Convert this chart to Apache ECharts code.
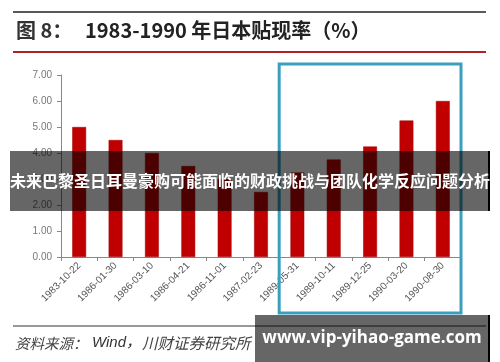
<!DOCTYPE html>
<html><head><meta charset="utf-8">
<script src="https://cdn.jsdelivr.net/npm/echarts@6/dist/echarts.min.js"></script>
<style>html,body{margin:0;padding:0;background:#fff}#c{width:500px;height:362px}</style>
</head><body><div id="c"></div>
<script>
const categories = ['1983-10-22','1986-01-30','1986-03-10','1986-04-21','1986-11-01','1987-02-23','1989-05-31','1989-10-11','1989-12-25','1990-03-20','1990-08-30'];
const rates = [5.0, 4.5, 4.0, 3.5, 3.0, 2.5, 3.25, 3.75, 4.25, 5.25, 6.0];
const yTicks = [0,1,2,3,4,5,6,7];
const highlightFrom = '1989-05-31';
const highlightTo = '1990-08-30';

const chart = echarts.init(document.getElementById('c'), null, {renderer:'canvas'});
const cjk = '"Noto Sans CJK SC", "Noto Sans", sans-serif';
const baseGraphics = [
  {type:'line', shape:{x1:13,y1:12,x2:486,y2:12}, style:{stroke:'#222',lineWidth:1.5}},
  {type:'text', left:16, top:20, style:{text:'图 8：', font:'bold 20px '+cjk, fill:'#333'}},
  {type:'text', left:85, top:20, style:{text:'1983-1990 年日本贴现率（%）', font:'bold 20px '+cjk, fill:'#222'}},
  {type:'line', shape:{x1:13,y1:52,x2:486,y2:52}, style:{stroke:'#b22222',lineWidth:2}},
  {type:'line', shape:{x1:13,y1:326,x2:486,y2:326}, style:{stroke:'#333',lineWidth:1}},
  {type:'text', x:15, y:343, style:{text:'资料来源：', font:'italic 14.5px '+cjk, fill:'#444', verticalAlign:'middle'}},
  {type:'text', x:92, y:343, style:{text:'Wind，', font:'italic 15px "Liberation Sans", '+cjk, fill:'#333', verticalAlign:'middle'}},
  {type:'text', x:142, y:343, style:{text:'川财证券研究所', font:'italic 15.5px '+cjk, fill:'#444', verticalAlign:'middle'}}
];
chart.setOption({
  animation:false,
  backgroundColor:'#fff',
  grid:{left:61, right:39, top:75, bottom:105},
  xAxis:{type:'category', data:categories,
    axisLine:{lineStyle:{color:'#888',width:1}},
    axisTick:{show:true, alignWithLabel:false, length:4, lineStyle:{color:'#888'}},
    axisLabel:{rotate:45, fontSize:10, color:'#555', margin:7, fontFamily:'"Liberation Sans", sans-serif', interval:0}},
  yAxis:{type:'value', min:0, max:7, interval:1,
    splitLine:{show:false},
    axisLine:{show:true, lineStyle:{color:'#888'}},
    axisTick:{show:true, length:4, lineStyle:{color:'#888'}},
    axisLabel:{fontSize:10, color:'#777', margin:9, fontFamily:'"Liberation Sans", sans-serif', formatter:v=>v.toFixed(2)}},
  series:[{type:'bar', data:rates, barWidth:'38%', itemStyle:{color:'#c00000', borderColor:'#a00000', borderWidth:0.5}}],
  graphic:baseGraphics
});

// highlight frame based on category band edges
const i0 = categories.indexOf(highlightFrom), i1 = categories.indexOf(highlightTo);
const c0 = chart.convertToPixel({xAxisIndex:0}, categories[i0]);
const c1 = chart.convertToPixel({xAxisIndex:0}, categories[i1]);
const band = (c1 - c0) / Math.max(1, i1 - i0);
const fx0 = c0 - band/2, fx1 = c1 + band/2;
chart.setOption({graphic: baseGraphics.concat([
  {type:'rect', shape:{x:fx0, y:64, width:fx1-fx0, height:249}, style:{fill:'none', stroke:'#3a9fbf', lineWidth:3}, z:50},
  {type:'rect', shape:{x:10,y:151,width:479,height:60}, style:{fill:'rgba(0,0,0,0.6)'}, z:100},
  {type:'rect', shape:{x:488,y:151,width:2,height:60}, style:{fill:'#000'}, z:100},
  {type:'text', x:250, y:181, style:{text:'未来巴黎圣日耳曼豪购可能面临的财政挑战与团队化学反应问题分析', font:'bold 16px '+cjk, fill:'#fff', align:'center', verticalAlign:'middle'}, z:101},
  {type:'rect', shape:{x:255,y:315,width:233,height:47}, style:{fill:'rgba(0,0,0,0.6)'}, z:100},
  {type:'rect', shape:{x:488,y:315,width:2,height:47}, style:{fill:'#000'}, z:100},
  {type:'text', x:372, y:338, style:{text:'www.vip-yihao-game.com', font:'bold 17px "Open Sans", "Noto Sans", sans-serif', fill:'#fff', align:'center', verticalAlign:'middle'}, z:101}
])});
</script></body></html>
